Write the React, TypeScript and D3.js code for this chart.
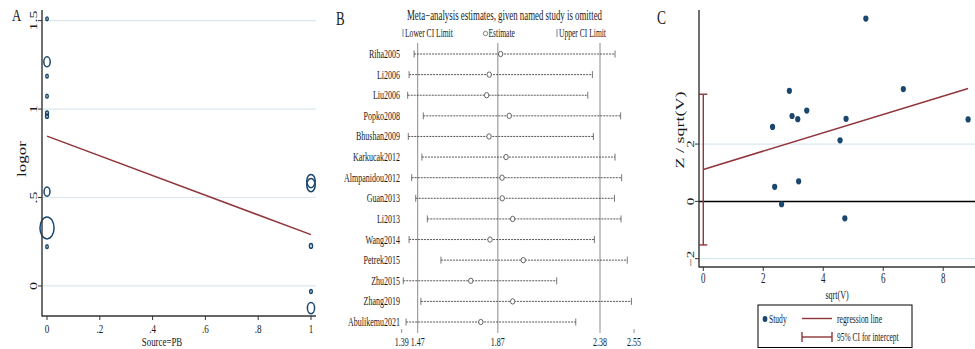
import React, { useEffect } from 'react';
import * as d3 from 'd3';

// ---- panel A: meta-regression on source (PB) ----
const sourcePB = [0, 0, 0, 0, 0, 0, 0, 0, 0, 1, 1, 1, 1, 1];
const logOR = [1.51, 1.267, 1.186, 1.073, 0.977, 0.96, 0.533, 0.328, 0.222, 0.593, 0.57, 0.226, -0.032, -0.125];
const weightR = [1.9, 5, 1.9, 1.9, 2.2, 2.2, 4.6, 11, 1.9, 6.6, 6.6, 2.4, 2, 5.6];
const fitA = [0.847, -0.557]; // intercept, slope
const aYTicks = [0, 0.5, 1, 1.5];
const aYLabels = ['0', '.5', '1', '1.5'];
const aXTicks = [0, 0.2, 0.4, 0.6, 0.8, 1];
const aXLabels = ['0', '.2', '.4', '.6', '.8', '1'];

// ---- panel B: leave-one-out sensitivity ----
const studies = [
  'Riha2005', 'Li2006', 'Liu2006', 'Popko2008', 'Bhushan2009', 'Karkucak2012', 'Almpanidou2012',
  'Guan2013', 'Li2013', 'Wang2014', 'Petrek2015', 'Zhu2015', 'Zhang2019', 'Abulikemu2021',
];
const lowerCI = [1.452, 1.427, 1.42, 1.498, 1.423, 1.491, 1.44, 1.46, 1.518, 1.427, 1.586, 1.398, 1.486, 1.412];
const estimate = [1.884, 1.827, 1.814, 1.927, 1.826, 1.911, 1.891, 1.892, 1.944, 1.831, 1.997, 1.735, 1.944, 1.785];
const upperCI = [2.455, 2.342, 2.319, 2.483, 2.347, 2.455, 2.488, 2.452, 2.485, 2.352, 2.516, 2.164, 2.537, 2.259];
const bRefLines = [1.47, 1.87, 2.38];
const bTicks = [1.39, 1.47, 1.87, 2.38, 2.55];

// ---- panel C: Egger test ----
const sqrtV = [5.42, 2.87, 6.67, 3.45, 2.96, 3.15, 2.31, 4.76, 8.83, 4.56, 3.18, 2.38, 2.61, 4.72];
const zOverSqrtV = [6.38, 3.86, 3.92, 3.17, 2.98, 2.87, 2.6, 2.88, 2.86, 2.13, 0.7, 0.51, -0.1, -0.59];
const eggerFit = [1.116, 0.32];
const interceptCI = [-1.52, 3.74];
const cXTicks = [0, 2, 4, 6, 8];
const cYTicks = [-2, 0, 2];
const cYLabels = ['\u22122', '0', '2'];

const NAVY = '#1a476f';
const MAROON = '#90353b';
const GRID = '#dae7ee';
const AXIS = '#333';
const FONT = 'Liberation Serif, Times New Roman, serif';

type TP = {
  x: number; y: number; size: number; sx: number; anchor?: 'start' | 'middle' | 'end';
  rot?: boolean; fill?: string; children: React.ReactNode;
};
const SqText = ({ x, y, size, sx, anchor = 'start', rot = false, fill = '#1a1a1a', children }: TP) => (
  <text
    transform={`translate(${x},${y}) scale(${sx},1)${rot ? ' rotate(-90)' : ''}`}
    fontSize={size}
    textAnchor={anchor}
    fill={fill}
    fontFamily={FONT}
  >
    {children}
  </text>
);

const App: React.FC = () => {
  useEffect(() => {
    document.body.style.margin = '0';
    document.body.style.background = '#fff';
  }, []);

  // scales A
  const xA = d3.scaleLinear().domain([-0.019, 1.019]).range([42, 316]);
  const yA = d3.scaleLinear().domain([-0.17, 1.56]).range([316, 10]);
  const lineA = d3.line<number>().x(d => xA(d)).y(d => yA(fitA[0] + fitA[1] * d));

  // scales B
  const xB = d3.scaleLinear().domain([1.47, 2.38]).range([417.7, 600]);
  const yB = d3.scalePoint<string>().domain(studies).range([54, 322]);

  // scales C
  const xC = d3.scaleLinear().domain([-0.143, 9.06]).range([699, 975]);
  const yC = d3.scaleLinear().domain([-2.29, 6.68]).range([267, 10]);
  const lineC = d3.line<number>().x(d => xC(d)).y(d => yC(eggerFit[0] + eggerFit[1] * d));
  const maxSqrtV = d3.max(sqrtV) || 0;

  return (
    <svg width={975} height={349} style={{ position: 'absolute', left: 0, top: 0, display: 'block' }}>
      <rect width={975} height={349} fill="#fff" />
      <defs>
        <clipPath id="clipB">
          <rect x={330} y={0} width={311} height={349} />
        </clipPath>
      </defs>

      {/* ================= Panel A ================= */}
      <g>
        {aYTicks.map(t => (
          <line key={`ga${t}`} x1={43} x2={316} y1={yA(t)} y2={yA(t)} stroke={GRID} strokeWidth={1.2} />
        ))}
        <path d={lineA([0, 1]) || ''} fill="none" stroke={MAROON} strokeWidth={1.5} />
        {logOR.map((v, i) => (
          <ellipse
            key={`ca${i}`}
            cx={xA(sourcePB[i])}
            cy={yA(v)}
            rx={weightR[i] * 0.64}
            ry={weightR[i]}
            fill="none"
            stroke={NAVY}
            strokeWidth={1.5}
          />
        ))}
        <line x1={42} x2={42} y1={10} y2={316.5} stroke={AXIS} strokeWidth={1.4} />
        <line x1={42} x2={316} y1={316} y2={316} stroke={AXIS} strokeWidth={1.4} />
        {aYTicks.map((t, i) => (
          <g key={`ya${t}`}>
            <line x1={38} x2={42} y1={yA(t)} y2={yA(t)} stroke={AXIS} strokeWidth={1} />
            <SqText x={37} y={yA(t)} size={16} sx={0.7} anchor="middle" rot>
              {aYLabels[i]}
            </SqText>
          </g>
        ))}
        {aXTicks.map((t, i) => (
          <g key={`xa${t}`}>
            <line x1={xA(t)} x2={xA(t)} y1={316} y2={320} stroke={AXIS} strokeWidth={1} />
            <SqText x={xA(t)} y={333} size={13} sx={0.7} anchor="middle">
              {aXLabels[i]}
            </SqText>
          </g>
        ))}
        <SqText x={26} y={159} size={17} sx={0.7} anchor="middle" rot>logor</SqText>
        <SqText x={162} y={345.5} size={12} sx={0.74} anchor="middle">Source=PB</SqText>
        <SqText x={12} y={21} size={16} sx={0.8}>A</SqText>
      </g>

      {/* ================= Panel B ================= */}
      <g clipPath="url(#clipB)">
        <SqText x={336} y={25} size={18} sx={0.72}>B</SqText>
        <SqText x={504.5} y={20} size={13.6} sx={0.65} anchor="middle">
          Meta{'\u2212'}analysis estimates, given named study is omitted
        </SqText>
        {/* legend */}
        <line x1={403} x2={403} y1={29} y2={37} stroke="#666" strokeWidth={0.8} />
        <SqText x={405} y={37} size={12} sx={0.63}>Lower CI Limit</SqText>
        <circle cx={485.5} cy={33.5} r={2.2} fill="none" stroke="#666" strokeWidth={0.8} />
        <SqText x={488.5} y={37} size={12} sx={0.63}>Estimate</SqText>
        <line x1={557} x2={557} y1={29} y2={37} stroke="#666" strokeWidth={0.8} />
        <SqText x={559} y={37} size={12} sx={0.63}>Upper CI Limit</SqText>

        {bRefLines.map(v => (
          <line key={`rb${v}`} x1={xB(v)} x2={xB(v)} y1={43} y2={329} stroke="#8a8a8a" strokeWidth={1} />
        ))}
        {studies.map((s, i) => {
          const y = yB(s) || 0;
          return (
            <g key={s}>
              <SqText x={400} y={y + 4} size={12.5} sx={0.64} anchor="end">{s}</SqText>
              <line
                x1={xB(lowerCI[i])}
                x2={xB(upperCI[i])}
                y1={y}
                y2={y}
                stroke="#444"
                strokeWidth={0.9}
                strokeDasharray="2,1"
              />
              <line x1={xB(lowerCI[i])} x2={xB(lowerCI[i])} y1={y - 3.5} y2={y + 3.5} stroke="#555" strokeWidth={0.8} />
              <line x1={xB(upperCI[i])} x2={xB(upperCI[i])} y1={y - 3.5} y2={y + 3.5} stroke="#555" strokeWidth={0.8} />
              <ellipse cx={xB(estimate[i])} cy={y} rx={2.2} ry={2.7} fill="#fff" stroke="#555" strokeWidth={0.9} />
            </g>
          );
        })}
        {bTicks.map(t => (
          <g key={`tb${t}`}>
            <line x1={xB(t)} x2={xB(t)} y1={329} y2={333} stroke="#777" strokeWidth={0.8} />
            <SqText x={xB(t)} y={346} size={12.5} sx={0.64} anchor="middle">{t.toFixed(2)}</SqText>
          </g>
        ))}
      </g>

      {/* ================= Panel C ================= */}
      <g>
        <SqText x={657} y={24} size={18} sx={0.75}>C</SqText>
        {cYTicks.filter(t => t !== 0).map(t => (
          <line key={`gc${t}`} x1={700} x2={975} y1={yC(t)} y2={yC(t)} stroke={GRID} strokeWidth={1.2} />
        ))}
        <line x1={699} x2={975} y1={yC(0)} y2={yC(0)} stroke="#000" strokeWidth={1.5} />
        <path d={lineC([0, maxSqrtV]) || ''} fill="none" stroke={MAROON} strokeWidth={1.5} />
        {/* 95% CI for intercept */}
        <line x1={xC(0)} x2={xC(0)} y1={yC(interceptCI[0])} y2={yC(interceptCI[1])} stroke={MAROON} strokeWidth={1.4} />
        {interceptCI.map(v => (
          <line key={`cap${v}`} x1={xC(0) - 4} x2={xC(0) + 4} y1={yC(v)} y2={yC(v)} stroke={MAROON} strokeWidth={1.4} />
        ))}
        {sqrtV.map((v, i) => (
          <ellipse key={`dc${i}`} cx={xC(v)} cy={yC(zOverSqrtV[i])} rx={2.6} ry={3.1} fill={NAVY} />
        ))}
        <line x1={699} x2={699} y1={10} y2={267.5} stroke={AXIS} strokeWidth={1.4} />
        <line x1={699} x2={975} y1={267} y2={267} stroke={AXIS} strokeWidth={1.4} />
        {cYTicks.map((t, i) => (
          <g key={`yc${t}`}>
            <line x1={695} x2={699} y1={yC(t)} y2={yC(t)} stroke={AXIS} strokeWidth={1} />
            <SqText x={693.5} y={yC(t)} size={15} sx={0.66} anchor="middle" rot>{cYLabels[i]}</SqText>
          </g>
        ))}
        {cXTicks.map(t => (
          <g key={`xc${t}`}>
            <line x1={xC(t)} x2={xC(t)} y1={267} y2={271} stroke={AXIS} strokeWidth={1} />
            <SqText x={xC(t)} y={283} size={14} sx={0.64} anchor="middle">{String(t)}</SqText>
          </g>
        ))}
        <SqText x={684} y={130} size={18} sx={0.66} anchor="middle" rot>Z / sqrt(V)</SqText>
        <SqText x={837} y={299} size={13} sx={0.62} anchor="middle">sqrt(V)</SqText>

        {/* legend */}
        <rect x={758} y={305} width={154} height={42.5} fill="#fff" stroke="#000" strokeWidth={1} />
        <ellipse cx={765} cy={319} rx={2.4} ry={2.9} fill={NAVY} />
        <SqText x={769} y={322.5} size={11.5} sx={0.66}>Study</SqText>
        <line x1={802} x2={832} y1={318.5} y2={318.5} stroke={MAROON} strokeWidth={1.4} />
        <SqText x={837} y={322.5} size={11.5} sx={0.67}>regression line</SqText>
        <line x1={802} x2={832} y1={337} y2={337} stroke={MAROON} strokeWidth={1.4} />
        <line x1={802} x2={802} y1={332} y2={342} stroke={MAROON} strokeWidth={1.4} />
        <line x1={832} x2={832} y1={332} y2={342} stroke={MAROON} strokeWidth={1.4} />
        <SqText x={837} y={341} size={11.5} sx={0.65}>95% CI for intercept</SqText>
      </g>
    </svg>
  );
};

export default App;
